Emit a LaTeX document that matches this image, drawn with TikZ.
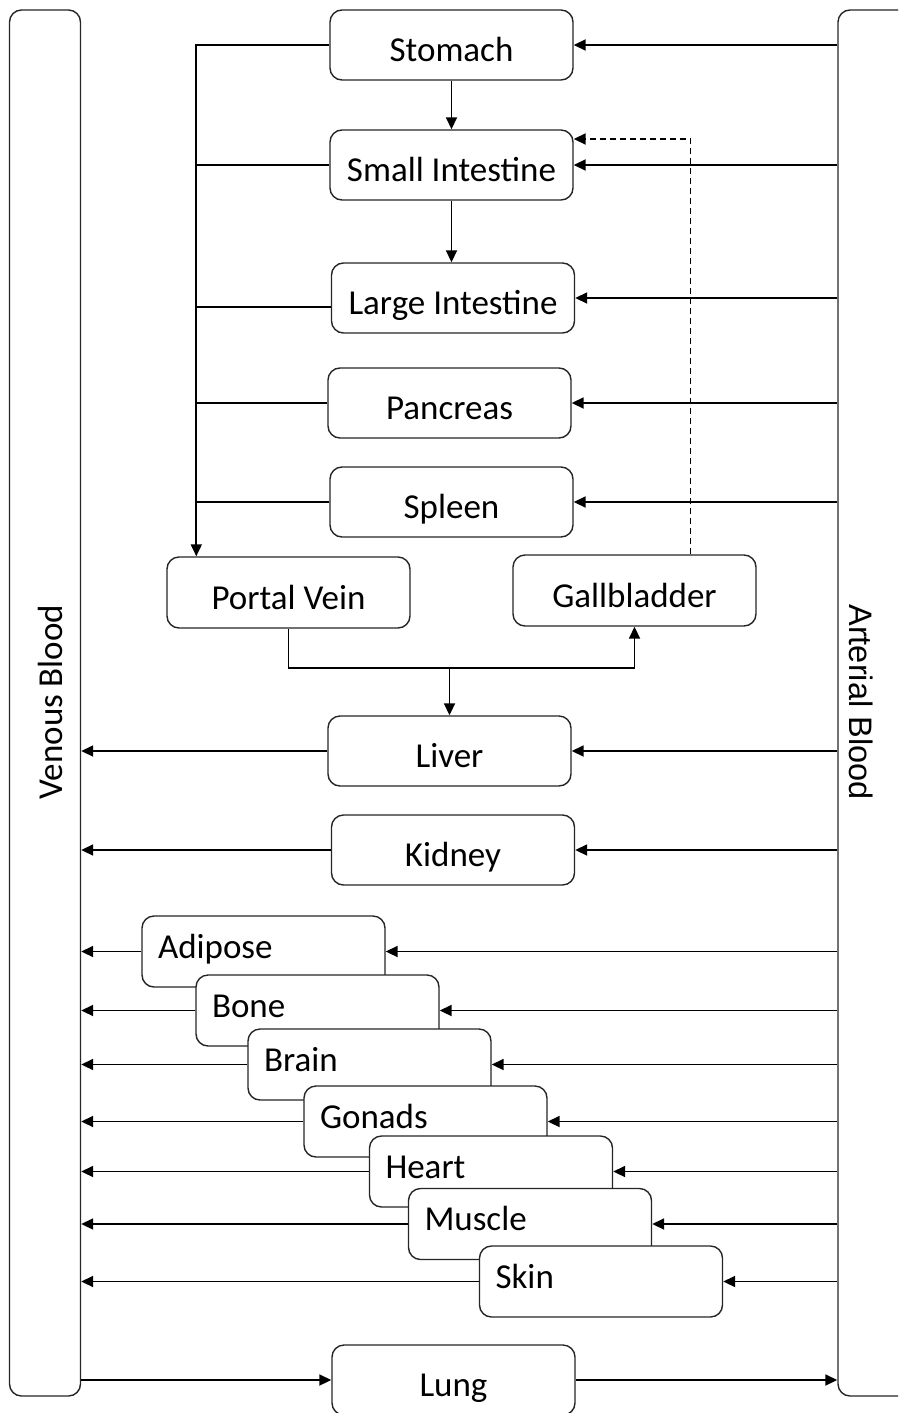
\documentclass[tikz,border=0pt]{standalone}
\usepackage{fontspec}
\setmainfont{Carlito}
\newfontfamily\arialfnt{Liberation Sans}
\usetikzlibrary{arrows.meta}
\newcommand\bigfnt{\fontsize{35pt}{42pt}\selectfont}
\begin{document}
\begin{tikzpicture}[x=1pt,y=-1pt,
  box/.style={draw=black!85, line width=1.4pt, rounded corners=12pt, fill=white,
    minimum width=243pt, minimum height=70pt, inner sep=0pt, font=\bigfnt,
    text height=33pt, text depth=0pt},
  sbox/.style={box, minimum height=71pt, text width=211pt, align=left,
    inner xsep=16pt, text height=22pt, text depth=9pt},
  conn/.style={line width=1.8pt},
  arr/.style={conn, -{Triangle[length=12pt,width=11pt]}},
  dasharr/.style={arr, dash pattern=on 6pt off 4pt}]
\useasboundingbox (0,0) rectangle (898,1413);
\clip (0,0) rectangle (898,1413);
% blood pools
\node[box, minimum width=71pt, minimum height=1386pt] (ven) at (45,703) {};
\node[box, minimum width=72pt, minimum height=1386pt] (art) at (874,703) {};
\node[font=\bigfnt, rotate=90, inner sep=0pt] (ventxt) at (50,702) {Venous Blood};
\node[font={\arialfnt\fontsize{32.5pt}{39pt}\selectfont}, rotate=-90, inner sep=0pt] (arttxt) at (861,702) {Arterial Blood};
% organs
\node[box] (stom) at (451.5,45) {Stomach};
\node[box] (small) at (451.5,165) {Small Intestine};
\node[box] (large) at (453,298) {Large Intestine};
\node[box] (panc) at (449.5,403) {Pancreas};
\node[box] (spl) at (451.5,502) {Spleen};
\node[box, minimum height=71pt] (pv) at (288.5,592.5) {Portal Vein};
\node[box, minimum height=71pt] (gall) at (634.5,590.5) {Gallbladder};
\node[box] (liv) at (449.5,751) {Liver};
\node[box] (kid) at (453,850) {Kidney};
\node[sbox] (adi) at (263.5,951.5) {Adipose};
\node[sbox] (bone) at (317.5,1010.5) {Bone};
\node[sbox] (brain) at (369.5,1064.5) {Brain};
\node[sbox] (gon) at (425.5,1121.5) {Gonads};
\node[sbox] (heart) at (491,1171.5) {Heart};
\node[sbox] (mus) at (530,1224) {Muscle};
\node[sbox] (skin) at (601,1281.5) {Skin};
\node[box] (lung) at (453.5,1380) {Lung};
% portal collector
\coordinate (col) at ([xshift=30pt]pv.north west);
\draw[arr] (stom.west) -| (col);
\foreach \n in {small,panc,spl} \draw[conn] (\n.west) -- (\n.west -| col);
\draw[conn] ([yshift=-9pt]large.west) -- ([yshift=-9pt]large.west -| col);
% gut chain
\draw[arr] (stom.south) -- (small.north);
\draw[arr] (small.south) -- (small.south |- large.north);
\draw[dasharr] ([xshift=56pt]gall.north) |- ([yshift=26pt]small.east);
% portal vein to liver and gallbladder
\coordinate (jn) at (449.5,668);
\draw[arr] (pv.south) |- (jn) -| (gall.south);
\draw[arr] (jn) -- (liv.north);
% arterial supply
\foreach \n in {stom,small,large,panc,spl,liv,kid,adi,bone,brain,gon,heart,mus,skin}
  \draw[arr] (art.west |- \n.east) -- (\n.east);
% venous return
\foreach \n in {liv,kid,adi,bone,brain,gon,heart,mus,skin}
  \draw[arr] (\n.west) -- (ven.east |- \n.west);
% lung
\draw[arr] (ven.east |- lung.west) -- (lung.west);
\draw[arr] (lung.east) -- (art.west |- lung.east);
\end{tikzpicture}
\end{document}
